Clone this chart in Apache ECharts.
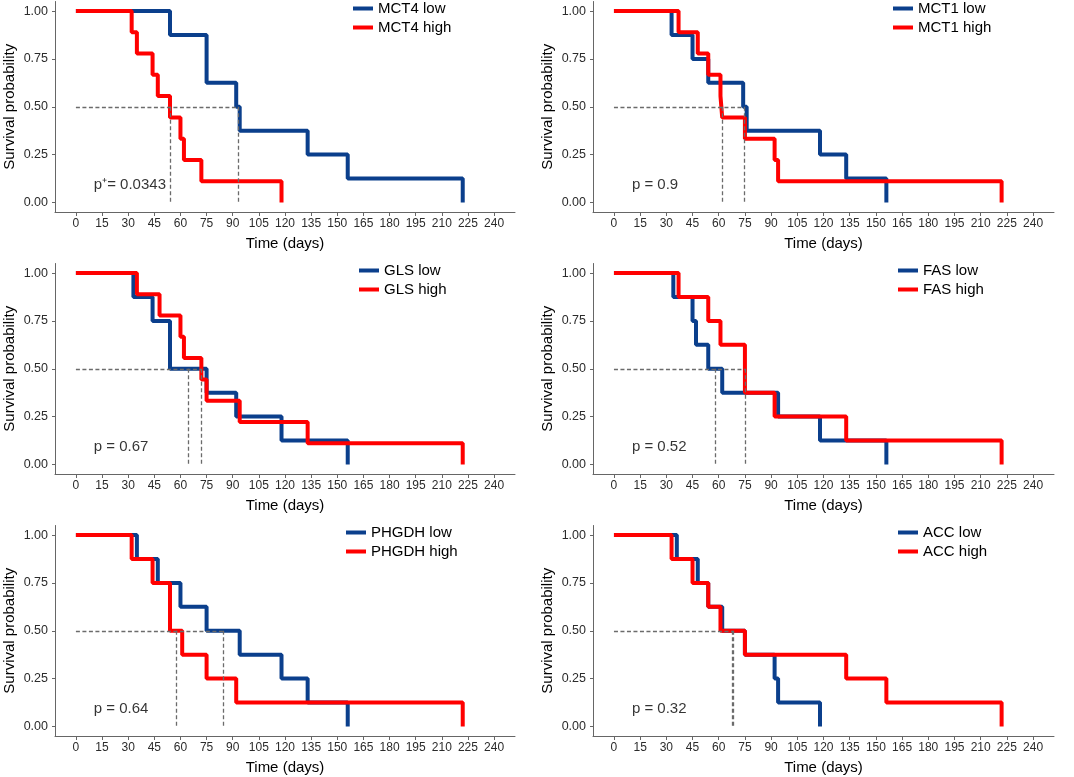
<!DOCTYPE html>
<html><head><meta charset="utf-8">
<script src="https://cdn.jsdelivr.net/npm/echarts@6/dist/echarts.min.js"></script>
<style>html,body{margin:0;padding:0;background:#fff}#c{width:1074px;height:777px}</style>
</head><body><div id="c"></div>
<script>
// ---- data ----
const genes = ['MCT4', 'MCT1', 'GLS', 'FAS', 'PHGDH', 'ACC'];
const pTexts = ['p\u207A= 0.0343', 'p = 0.9', 'p = 0.67', 'p = 0.52', 'p = 0.64', 'p = 0.32'];
const xTicks = [0, 15, 30, 45, 60, 75, 90, 105, 120, 135, 150, 165, 180, 195, 210, 225, 240];
const yTicks = [0, 0.25, 0.5, 0.75, 1];

const mct4LowT = [0, 54, 75, 92, 94, 133, 156, 222];
const mct4LowS = [1, 0.875, 0.625, 0.5, 0.375, 0.25, 0.125, 0];
const mct4HighT = [0, 32, 35, 44, 47, 54, 60, 62, 72, 118];
const mct4HighS = [1, 0.889, 0.778, 0.667, 0.556, 0.444, 0.333, 0.222, 0.111, 0];

const mct1LowT = [0, 33, 45, 54, 74, 76, 118, 133, 156];
const mct1LowS = [1, 0.875, 0.75, 0.625, 0.5, 0.375, 0.25, 0.125, 0];
const mct1HighT = [0, 37, 48, 54, 61, 62, 75, 92, 94, 222];
const mct1HighS = [1, 0.889, 0.778, 0.667, 0.556, 0.444, 0.333, 0.222, 0.111, 0];

const glsLowT = [0, 33, 44, 54, 75, 92, 118, 156];
const glsLowS = [1, 0.875, 0.75, 0.5, 0.375, 0.25, 0.125, 0];
const glsHighT = [0, 35, 48, 60, 62, 72, 75, 94, 133, 222];
const glsHighS = [1, 0.889, 0.778, 0.667, 0.556, 0.444, 0.333, 0.222, 0.111, 0];

const fasLowT = [0, 34, 45, 47, 54, 62, 94, 118, 156];
const fasLowS = [1, 0.875, 0.75, 0.625, 0.5, 0.375, 0.25, 0.125, 0];
const fasHighT = [0, 37, 54, 61, 75, 92, 133, 222];
const fasHighS = [1, 0.875, 0.75, 0.625, 0.375, 0.25, 0.125, 0];

const phgdhLowT = [0, 35, 47, 60, 75, 94, 118, 133, 156];
const phgdhLowS = [1, 0.875, 0.75, 0.625, 0.5, 0.375, 0.25, 0.125, 0];
const phgdhHighT = [0, 32, 44, 54, 61, 75, 92, 222];
const phgdhHighS = [1, 0.875, 0.75, 0.5, 0.375, 0.25, 0.125, 0];

const accLowT = [0, 36, 48, 54, 62, 75, 92, 94, 118];
const accLowS = [1, 0.875, 0.75, 0.625, 0.5, 0.375, 0.25, 0.125, 0];
const accHighT = [0, 33, 45, 54, 61, 75, 133, 156, 222];
const accHighS = [1, 0.875, 0.75, 0.625, 0.5, 0.375, 0.25, 0.125, 0];

const medianLow = [93, 74.5, 64.5, 58, 84.5, 68.5];
const medianHigh = [54, 62, 72, 75, 57.5, 68];
const pPos = [10, 0.09];

// ---- layout ----
const lowT = [mct4LowT, mct1LowT, glsLowT, fasLowT, phgdhLowT, accLowT];
const lowS = [mct4LowS, mct1LowS, glsLowS, fasLowS, phgdhLowS, accLowS];
const highT = [mct4HighT, mct1HighT, glsHighT, fasHighT, phgdhHighT, accHighT];
const highS = [mct4HighS, mct1HighS, glsHighS, fasHighS, phgdhHighS, accHighS];

const colLeft = [55, 593], colWidth = [460, 461];
const rowTop = [1.5, 263.5, 525.5], rowHeight = 210.5;
const legendLeft = [353, 893, 359, 898, 346, 898];
const legendTop = [1, 1, 263, 263, 525, 525];
const BLUE = '#0B3F8C', RED = '#FF0000';
const FONT = "'Liberation Sans', Arial, sans-serif";

const zip = (t, s) => t.map((v, i) => [v, s[i]]);

const grids = [], xAxes = [], yAxes = [], series = [], legends = [];
genes.forEach((g, i) => {
  const c = i % 2, r = Math.floor(i / 2);
  grids.push({ left: colLeft[c], width: colWidth[c], top: rowTop[r], height: rowHeight });
  xAxes.push({
    type: 'value', gridIndex: i, min: -12, max: 252,
    axisLine: { show: true, onZero: false, lineStyle: { color: '#666', width: 1 } },
    axisTick: { show: true, customValues: xTicks, length: 4, lineStyle: { color: '#666' } },
    axisLabel: { customValues: xTicks, fontSize: 12, color: '#2b2b2b', margin: 6, fontFamily: FONT },
    splitLine: { show: false },
    name: 'Time (days)', nameLocation: 'middle', nameGap: 24,
    nameTextStyle: { fontSize: 15, color: '#000', fontFamily: FONT }
  });
  yAxes.push({
    type: 'value', gridIndex: i, min: -0.05, max: 1.05,
    axisLine: { show: true, onZero: false, lineStyle: { color: '#666', width: 1 } },
    axisTick: { show: true, customValues: yTicks, length: 3, lineStyle: { color: '#666' } },
    axisLabel: { customValues: yTicks, fontSize: 12.5, color: '#2b2b2b', margin: 7, fontFamily: FONT,
      formatter: v => v.toFixed(2) },
    splitLine: { show: false },
    name: 'Survival probability', nameLocation: 'middle', nameGap: 38, nameRotate: 90,
    nameTextStyle: { fontSize: 15, color: '#000', fontFamily: FONT }
  });
  const mMax = Math.max(medianLow[i], medianHigh[i]);
  series.push({
    name: g + ' low', type: 'line', step: 'end', xAxisIndex: i, yAxisIndex: i,
    data: zip(lowT[i], lowS[i]), symbol: 'none', color: BLUE,
    lineStyle: { color: BLUE, width: 4 }
  });
  series.push({
    name: g + ' high', type: 'line', step: 'end', xAxisIndex: i, yAxisIndex: i,
    data: zip(highT[i], highS[i]), symbol: 'none', color: RED,
    lineStyle: { color: RED, width: 4 },
    markLine: {
      silent: true, symbol: ['none', 'none'], label: { show: false },
      lineStyle: { type: [4, 2.5], color: '#6b6b6b', width: 1.3 },
      data: [
        [{ coord: [0, 0.5] }, { coord: [mMax, 0.5] }],
        [{ coord: [medianLow[i], 0.5] }, { coord: [medianLow[i], 0] }],
        [{ coord: [medianHigh[i], 0.5] }, { coord: [medianHigh[i], 0] }]
      ]
    }
  });
  series.push({
    type: 'scatter', xAxisIndex: i, yAxisIndex: i, data: [pPos], symbolSize: 1,
    itemStyle: { color: 'rgba(0,0,0,0)' }, silent: true,
    label: { show: true, position: 'right', distance: 0, formatter: pTexts[i],
      fontSize: 15, color: '#000', fontFamily: FONT }
  });
  legends.push({
    data: [g + ' low', g + ' high'], orient: 'vertical', left: legendLeft[i], top: legendTop[i],
    padding: 0, itemWidth: 20, itemHeight: 4, itemGap: 4, icon: 'rect',
    textStyle: { fontSize: 15, color: '#000', lineHeight: 15, fontFamily: FONT }
  });
});

const chart = echarts.init(document.getElementById('c'), null, { renderer: 'canvas' });
chart.setOption({
  animation: false, backgroundColor: '#fff',
  grid: grids, xAxis: xAxes, yAxis: yAxes, series: series, legend: legends
});
</script></body></html>
